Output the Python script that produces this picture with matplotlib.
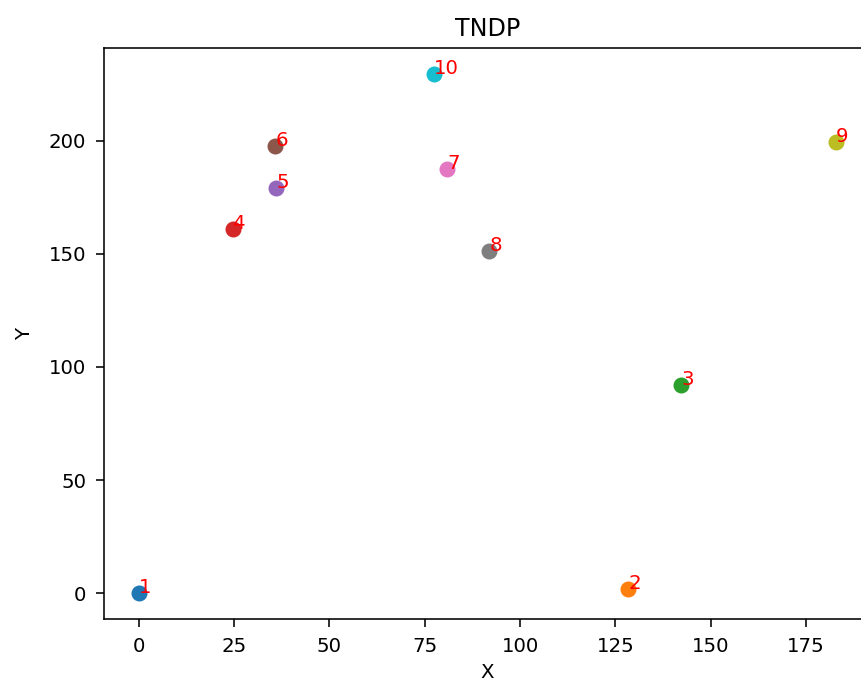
import matplotlib
matplotlib.use("Agg")
import matplotlib.pyplot as plt

# node coordinates
node_ids = [1, 2, 3, 4, 5, 6, 7, 8, 9, 10]
xs = [0, 128.4, 142.2, 24.8, 36.1, 35.8, 80.8, 91.9, 182.9, 77.5]
ys = [0, 1.8, 92.1, 161.0, 179.1, 197.8, 187.6, 151.4, 199.2, 229.3]

DPI = 142.5
fig = plt.figure(figsize=(861 / DPI, 684 / DPI), dpi=DPI)
ax = fig.add_axes([104 / 861, (684 - 619.3) / 684, 767 / 861, 571 / 684])

for i, x, y in zip(node_ids, xs, ys):
    ax.scatter(x, y, s=50)
    ax.text(x, y, str(i), color="red")

ax.tick_params(pad=5, length=4)
ax.set_title("TNDP")
ax.set_xlabel("X", labelpad=3.5)
ax.set_ylabel("Y", labelpad=7.5)

fig.savefig("out.png", dpi=DPI)
